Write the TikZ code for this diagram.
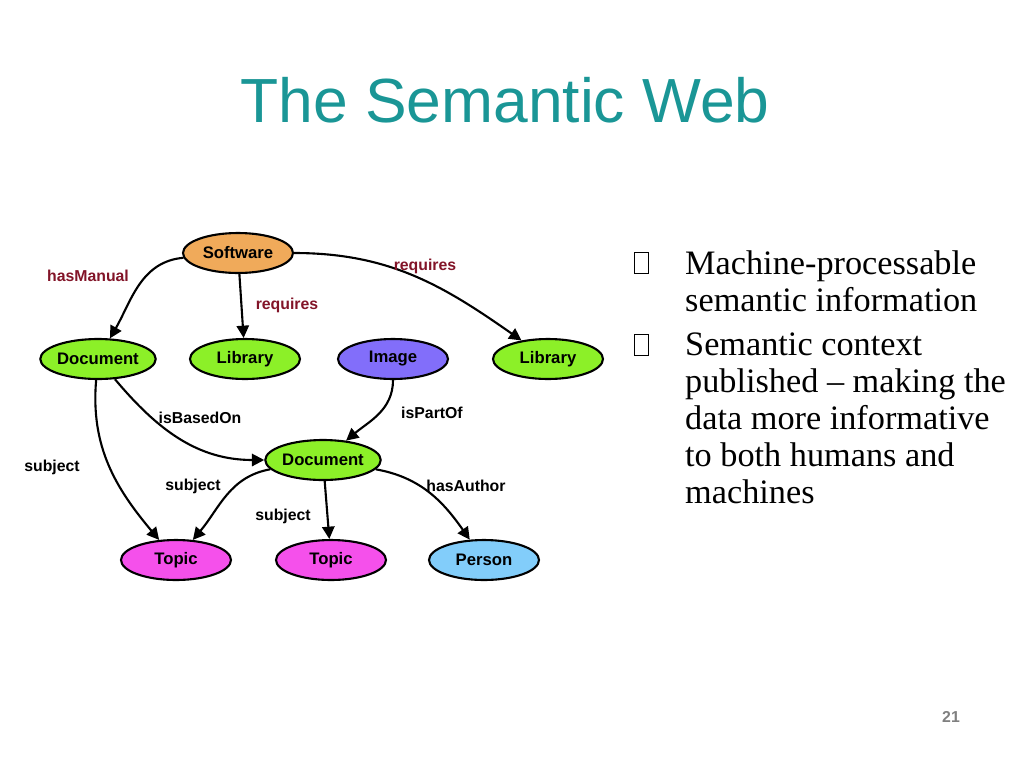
\documentclass[tikz,border=0pt]{standalone}
\usepackage{fontspec}
\setmainfont{Liberation Serif}
\setsansfont{Liberation Sans}
\usetikzlibrary{shapes.geometric,arrows.meta}
\definecolor{titleteal}{RGB}{26,150,150}
\definecolor{sworange}{RGB}{240,170,90}
\definecolor{libgreen}{RGB}{140,240,40}
\definecolor{imgblue}{RGB}{130,110,250}
\definecolor{topicpink}{RGB}{245,80,235}
\definecolor{personblue}{RGB}{130,205,250}
\definecolor{edgered}{RGB}{130,20,40}
\tikzset{
  res/.style={ellipse,draw=black,line width=1.2pt,minimum width=2.2cm,minimum height=0.8cm,
    inner sep=0pt,font=\sffamily\bfseries\fontsize{9.5}{10}\selectfont},
  prop/.style={font=\sffamily\bfseries\fontsize{9}{10}\selectfont},
  link/.style={-{Triangle[length=7pt,width=7pt]},line width=1.2pt}
}
\begin{document}
\begin{tikzpicture}[x=0.02cm,y=-0.02cm]
  \useasboundingbox (0,0) rectangle (1024,768);
  \node (title) at (505,100) {\sffamily\color{titleteal}\fontsize{35.5}{38}\selectfont The Semantic Web};

  \node[res,fill=sworange] (sw) at (238,253) {Software};
  \node[res,fill=libgreen] (docl) at (98,359) {Document};
  \node[res,fill=libgreen] (libl) at (245,359) {Library};
  \node[res,fill=imgblue] (img) at (393,359) {Image};
  \node[res,fill=libgreen] (libr) at (548,359) {Library};
  \node[res,fill=libgreen] (docc) at (323,460) {Document};
  \node[res,fill=topicpink] (topl) at (176,560) {Topic};
  \node[res,fill=topicpink] (topc) at (331,560) {Topic};
  \node[res,fill=personblue] (pers) at (484,560) {Person};

  \draw[link] (sw) to[out=185,in=60] (docl);
  \draw[link] (sw) -- (libl);
  \draw[link] (sw.east) to[out=0,in=145] (libr);
  \draw[link] (docl) to[out=-50,in=180] (docc);
  \draw[link] (docl) to[out=-95,in=130] (topl);
  \draw[link] (img) to[out=-90,in=40] (docc);
  \draw[link] (docc) to[out=190,in=50] (topl);
  \draw[link] (docc) -- (topc);
  \draw[link] (docc) to[out=-10,in=125] (pers);

  \node[prop,text=edgered] (hasman) at (88,276) {hasManual};
  \node[prop,text=edgered] (req1) at (287,305) {requires};
  \node[prop,text=edgered] (req2) at (425,266) {requires};
  \node[prop] (based) at (200,418) {isBasedOn};
  \node[prop] (subj1) at (52,467) {subject};
  \node[prop] (part) at (432,413) {isPartOf};
  \node[prop] (subj2) at (193,486) {subject};
  \node[prop] (subj3) at (283,516) {subject};
  \node[prop] (auth) at (466,486) {hasAuthor};

  \node[draw,minimum width=8pt,minimum height=12pt,inner sep=0pt] (b1) at (641,263) {};
  \node[draw,minimum width=8pt,minimum height=12pt,inner sep=0pt] (b2) at (641,345) {};
  \node[anchor=north west,align=left,font=\fontsize{19.5}{21}\selectfont] (txt1) at (679,245)
    {Machine-processable\\semantic information};
  \node[anchor=north west,align=left,font=\fontsize{19.5}{21}\selectfont] (txt2) at (679,327)
    {Semantic context\\published -- making the\\data more informative\\to both humans and\\machines};
  \node[font=\sffamily\bfseries\fontsize{9}{10}\selectfont,text=gray] (pg) at (951,717) {21};
\end{tikzpicture}
\end{document}
